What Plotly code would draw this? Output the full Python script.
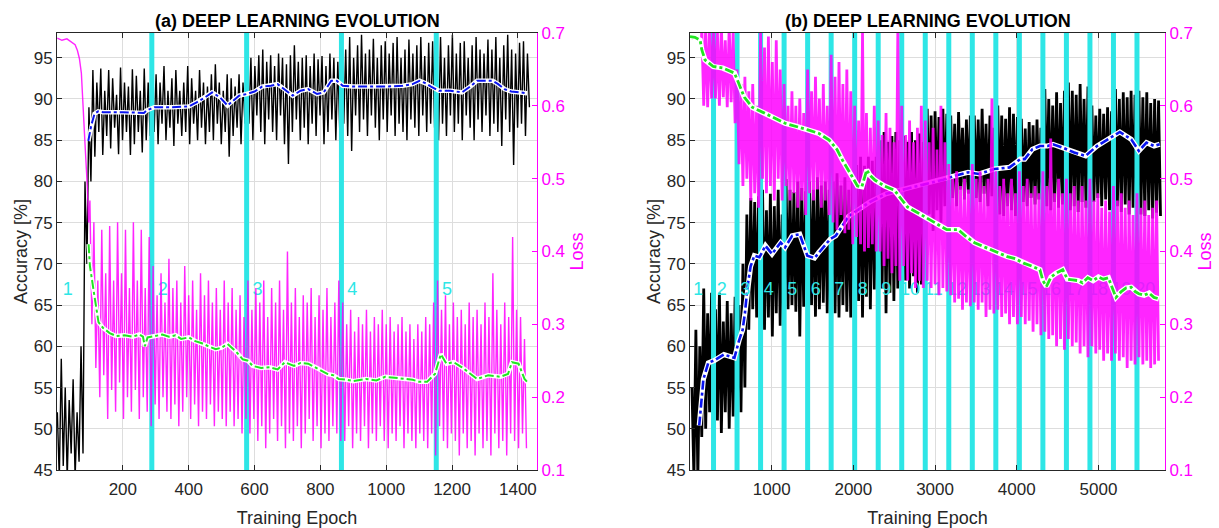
import plotly.graph_objects as go

# ---------------- Panel (a) data ----------------
a_acc_epochs = list(range(1, 1440, 12))          # sample grid for raw accuracy (hi at e, lo at e+6)
a_acc_hi = [52, 58.5, 55, 53.5, 56, 52,
            60, 80, 89, 93.5,
            92, 93.7, 91, 93.5, 92.5, 90.5, 93.8, 92, 91.5, 93.6, 92.8, 91, 93.7, 92,
            91.5, 93, 92, 94, 91, 92.5, 93.5, 91, 92, 94, 92.5, 91, 93.5, 92, 91.5, 93, 94.2, 92, 91, 93, 92.5, 91.5, 93, 92,
            95.5, 95, 94, 95.3, 96, 94.5, 95.3, 94, 95.5, 95, 94.2, 95.3, 96.5, 94.5, 95, 95.3, 94, 95.5, 94.8, 95.2, 94, 95.5, 95, 94.5,
            97, 96, 97.5, 95, 96.5, 97.8, 95.5, 96, 97.3, 95, 96.5, 97, 95.5, 96.8, 97.5, 95, 96, 97.2, 95.5, 96.5, 97.5, 95.2, 96.8, 97,
            96, 97.5, 95, 96.5, 97.8, 95.5, 96.8, 97, 95, 96.5, 97.5, 96, 95.5, 97.2, 96, 97.5, 95, 96.5, 97.8, 96, 95.5, 96.8, 97, 95.5]
a_acc_lo = [44, 45.5, 44, 47, 44, 46,
            47, 70, 80, 83,
            86, 83.2, 85.5, 84, 86.5, 83.3, 85, 86, 83.2, 84.5, 86, 83.5, 85, 85.5,
            86, 84.5, 87, 85, 86.5, 84.3, 87, 85.5, 86, 84.5, 87, 85, 86.5, 84.5, 86, 85, 87, 84.5, 86, 83, 85.5, 86.5, 84.5, 87,
            87, 85, 88, 86, 84.5, 87.5, 86, 85, 88, 84.5, 82.1, 86, 87.5, 85, 86.5, 84.5, 87, 85.5, 88, 84.5, 86, 87.5, 85, 86,
            87, 85.5, 83.7, 88, 86, 87.5, 85.5, 88, 86.5, 85, 87.5, 86, 88, 85.5, 87, 86, 85, 87.5, 86.5, 85.5, 88, 86, 87, 86.5,
            85, 87, 85.5, 88, 86, 87, 85, 88, 86.5, 85, 87.5, 86, 88, 85.5, 87, 86, 84.3, 87.5, 86, 82, 86.5, 87, 85.5, 89]

a_blue_epochs = [95, 104, 114, 125, 140, 200, 264, 272, 284, 296, 350, 401, 424, 450, 471, 495, 518, 540, 553, 576,
                 600, 623, 650, 670, 690, 716, 740, 763, 790, 810, 833, 850, 868, 900, 950, 997, 1050, 1080, 1101, 1120,
                 1136, 1160, 1195, 1230, 1255, 1276, 1300, 1323, 1340, 1359, 1380, 1405, 1428]
a_blue_acc = [84.9, 86.8, 88.2, 88.5, 88.4, 88.4, 88.3, 88.6, 88.8, 89.0, 89.0, 89.1, 89.6, 90.2, 90.8, 90.2, 89.2, 90.0, 90.4, 90.6,
              90.9, 91.5, 91.6, 91.8, 91.2, 90.4, 91.0, 91.2, 90.6, 90.8, 92.2, 92.2, 91.6, 91.5, 91.5, 91.5, 91.6, 91.8, 92.2, 91.9,
              91.5, 91.0, 91.0, 90.8, 91.5, 92.2, 92.2, 92.2, 91.8, 91.2, 90.9, 90.8, 90.7]

a_loss_init_epochs = [1, 15, 30, 45, 55, 62, 68, 74, 80, 86, 92, 96]
a_loss_init = [0.693, 0.69, 0.692, 0.687, 0.684, 0.676, 0.665, 0.645, 0.6, 0.54, 0.49, 0.44]
a_loss_epochs = list(range(100, 1421, 12))        # hi at e, lo at e+6
a_loss_hi = [0.47, 0.44, 0.36, 0.43, 0.37, 0.435, 0.36, 0.44, 0.37, 0.43, 0.35, 0.44, 0.36, 0.43, 0.35, 0.42,
             0.38, 0.34, 0.37, 0.33, 0.39, 0.35, 0.36, 0.33, 0.38, 0.34, 0.36, 0.32, 0.37, 0.34, 0.36, 0.33, 0.35, 0.32, 0.36, 0.33, 0.35, 0.32, 0.34, 0.31,
             0.36, 0.32, 0.35, 0.33, 0.36, 0.31, 0.35, 0.33, 0.36, 0.32, 0.40, 0.33, 0.35, 0.31, 0.34, 0.33, 0.35, 0.31, 0.34, 0.32, 0.35, 0.31, 0.33, 0.36,
             0.33, 0.30, 0.32, 0.29, 0.31, 0.30, 0.32, 0.29, 0.31, 0.30, 0.32, 0.30, 0.31, 0.29, 0.30, 0.31, 0.29, 0.30, 0.28, 0.30, 0.29, 0.31, 0.30, 0.33,
             0.36, 0.32, 0.34, 0.30, 0.33, 0.31, 0.32, 0.30, 0.33, 0.31, 0.32, 0.30, 0.33, 0.31, 0.37, 0.32, 0.30, 0.33, 0.31, 0.42, 0.32, 0.31, 0.28]
a_loss_lo = [0.30, 0.24, 0.20, 0.23, 0.17, 0.21, 0.18, 0.22, 0.17, 0.20, 0.18, 0.21, 0.17, 0.20, 0.18, 0.16,
             0.19, 0.17, 0.20, 0.18, 0.17, 0.19, 0.16, 0.18, 0.20, 0.17, 0.19, 0.16, 0.18, 0.17, 0.19, 0.16, 0.18, 0.17, 0.16, 0.18, 0.16, 0.17, 0.15, 0.17,
             0.15, 0.17, 0.14, 0.16, 0.13, 0.15, 0.17, 0.14, 0.16, 0.13, 0.15, 0.14, 0.16, 0.13, 0.15, 0.17, 0.14, 0.16, 0.13, 0.15, 0.14, 0.16, 0.15, 0.14,
             0.14, 0.16, 0.13, 0.15, 0.14, 0.16, 0.13, 0.15, 0.14, 0.16, 0.14, 0.13, 0.15, 0.14, 0.16, 0.13, 0.15, 0.14, 0.13, 0.15, 0.14, 0.13, 0.15, 0.12,
             0.16, 0.14, 0.13, 0.15, 0.14, 0.12, 0.15, 0.13, 0.14, 0.12, 0.15, 0.13, 0.14, 0.12, 0.15, 0.13, 0.14, 0.12, 0.15, 0.14, 0.13, 0.15, 0.13]

a_green_epochs = [96, 100, 110, 120, 126, 140, 160, 179, 205, 230, 250, 261, 267, 275, 296, 320, 340, 360, 377, 400, 420, 440,
                  459, 482, 500, 518, 545, 564, 580, 594, 620, 646, 670, 692, 720, 740, 763, 790, 821, 840, 856, 880, 900, 938,
                  970, 997, 1030, 1055, 1080, 1101, 1124, 1148, 1166, 1183, 1205, 1230, 1255, 1276, 1310, 1347, 1370, 1382, 1402,
                  1420, 1430]
a_green_loss = [0.41, 0.38, 0.35, 0.32, 0.303, 0.295, 0.288, 0.284, 0.285, 0.283, 0.286, 0.283, 0.27, 0.282, 0.284, 0.286, 0.283,
                0.285, 0.28, 0.282, 0.277, 0.274, 0.27, 0.266, 0.268, 0.273, 0.262, 0.252, 0.25, 0.243, 0.24, 0.241, 0.238, 0.248,
                0.243, 0.247, 0.246, 0.24, 0.232, 0.23, 0.225, 0.224, 0.222, 0.225, 0.223, 0.228, 0.226, 0.225, 0.224, 0.221, 0.221,
                0.232, 0.259, 0.246, 0.248, 0.241, 0.232, 0.225, 0.23, 0.228, 0.232, 0.248, 0.246, 0.225, 0.22]

a_bounds = [288, 576, 864, 1152]
a_labels = ["1", "2", "3", "4", "5"]
a_label_epochs = [33, 321, 609, 897, 1185]

# ---------------- Panel (b) data ----------------
b_acc_epochs = list(range(24, 5760, 48))         # hi at e, lo at e+24
b_acc_hi = [55, 62, 60, 67, 64, 66.5,
            64.5, 66.5, 63, 65.5, 64, 66,
            65, 70, 76, 78, 77.5, 78.2,
            79, 76.5, 78.5, 77, 79, 76,
            80.3, 79, 78.7, 80, 79.2, 78.8,
            80, 79, 80.5, 79.5, 80, 79,
            80, 81, 79.5, 80.5, 79, 80,
            82, 83, 81.9, 83, 82.5, 83,
            85, 86, 84.8, 85.5, 86, 85,
            85.5, 84.8, 86, 85, 85.8, 84.8,
            88.8, 88, 88.5, 87.8, 88.8, 88.2,
            88, 87, 88.4, 86.5, 87.5, 88,
            88, 87.5, 88.8, 87, 88, 86.5,
            89.2, 88, 87.6, 89, 88.2, 87.8,
            87.6, 86.4, 87.2, 86.8, 87.5, 86.5,
            91.2, 90, 89.2, 90.8, 89.5, 91,
            92, 91, 90.5, 91.8, 90, 91.5,
            89.2, 88, 88.8, 88.2, 89, 88.5,
            91.2, 90, 90.8, 90.2, 91, 90.5,
            91, 90.2, 90.8, 89.5, 90, 89.8]
b_acc_lo = [44, 44, 49, 50, 52, 49.5,
            51, 49.5, 52, 50, 51.5, 50,
            52, 55, 62, 64.5, 63.5, 65,
            62, 63.5, 61.2, 64, 62.5, 63,
            64.5, 65, 64.2, 61.2, 64.8, 65,
            65, 63.6, 64.5, 65.3, 64, 64.8,
            64, 63.5, 65, 64.2, 63.5, 65,
            65.5, 63.5, 66, 64.5, 66.9, 65,
            67, 64, 66.5, 65.5, 67, 66,
            68, 67, 68.5, 66.5, 67.5, 68,
            76, 74, 76.5, 75, 77, 76,
            78, 77, 79, 77.8, 78.5, 77.5,
            78, 77.5, 78.5, 77, 78.2, 77.8,
            76, 75.8, 77, 76.5, 75.8, 76.8,
            77.5, 77, 78, 77.2, 77.8, 77,
            77, 76.5, 77.5, 76.8, 77.2, 76.5,
            76.5, 77, 76.3, 77.5, 76.8, 77,
            77.5, 78, 77, 77.8, 76.5, 77.2,
            77, 76.3, 77.2, 76, 76.8, 77.5,
            76, 75.8, 76.5, 75.5, 76.2, 75.8]

b_blue_epochs = [113, 164, 224, 300, 415, 544, 600, 644, 672, 705, 742, 788, 850, 924, 1004, 1110, 1164, 1250, 1343, 1436,
                 1524, 1576, 1624, 1716, 1784, 1864, 1944, 2050, 2200, 2400, 2600, 2800, 3000, 3100, 3244, 3404, 3539, 3726,
                 3912, 4044, 4098, 4191, 4284, 4378, 4444, 4564, 4703, 4843, 4983, 5123, 5262, 5402, 5495, 5588, 5681, 5750]
b_blue_acc = [50.4, 56.0, 58.0, 58.3, 59.0, 58.6, 60.7, 62.0, 64.0, 67.3, 69.7, 71.0, 70.8, 72.2, 71.2, 72.6, 72.0, 73.4, 73.6,
              71.0, 70.7, 71.4, 71.9, 73.0, 73.4, 74.6, 75.8, 76.5, 77.5, 78.5, 79.0, 79.5, 80.0, 80.2, 80.7, 81.1, 80.9, 81.5,
              81.7, 82.7, 82.7, 83.9, 84.3, 84.3, 84.5, 84.1, 83.5, 83.1, 84.3, 85.1, 86.0, 85.1, 83.7, 84.7, 84.3, 84.5]

b_loss_init_epochs = [0, 30, 60, 90, 120, 140]
b_loss_init = [0.695, 0.693, 0.695, 0.692, 0.69, 0.685]
b_loss_epochs = list(range(144, 5760, 48))       # hi at e, lo at e+24
b_loss_hi = [0.71, 0.71, 0.71,
             0.71, 0.70, 0.71, 0.69, 0.71, 0.70,
             0.65, 0.63, 0.64, 0.62, 0.63, 0.60,
             0.70, 0.68, 0.695, 0.66, 0.69, 0.65,
             0.63, 0.60, 0.62, 0.60, 0.61, 0.59,
             0.65, 0.62, 0.64, 0.61, 0.63, 0.60,
             0.67, 0.64, 0.66, 0.63, 0.65, 0.62,
             0.60, 0.58, 0.70, 0.59, 0.57, 0.60,
             0.58, 0.56, 0.59, 0.57, 0.55, 0.70,
             0.60, 0.56, 0.58, 0.55, 0.57, 0.60,
             0.58, 0.55, 0.57, 0.54, 0.60, 0.55,
             0.52, 0.50, 0.51, 0.49, 0.50, 0.485,
             0.52, 0.50, 0.51, 0.49, 0.50, 0.61,
             0.51, 0.49, 0.50, 0.48, 0.50, 0.48,
             0.51, 0.49, 0.50, 0.48, 0.49, 0.48,
             0.51, 0.49, 0.555, 0.48, 0.50, 0.48,
             0.50, 0.48, 0.49, 0.47, 0.49, 0.47,
             0.50, 0.47, 0.48, 0.46, 0.47, 0.455,
             0.49, 0.47, 0.48, 0.46, 0.47, 0.45,
             0.48, 0.46, 0.47, 0.45, 0.46, 0.47]
b_loss_lo = [0.60, 0.598, 0.61,
             0.61, 0.60, 0.612, 0.598, 0.605, 0.576,
             0.52, 0.49, 0.50, 0.47, 0.48, 0.46,
             0.50, 0.48, 0.49, 0.47, 0.50, 0.47,
             0.49, 0.47, 0.48, 0.46, 0.47, 0.45,
             0.48, 0.47, 0.485, 0.46, 0.47, 0.45,
             0.44, 0.43, 0.45, 0.425, 0.43, 0.41,
             0.42, 0.41, 0.40, 0.405, 0.41, 0.40,
             0.40, 0.38, 0.39, 0.37, 0.38, 0.36,
             0.38, 0.36, 0.37, 0.35, 0.36, 0.35,
             0.36, 0.35, 0.355, 0.34, 0.35, 0.345,
             0.34, 0.33, 0.335, 0.32, 0.33, 0.325,
             0.33, 0.32, 0.33, 0.31, 0.32, 0.315,
             0.32, 0.31, 0.315, 0.30, 0.31, 0.30,
             0.31, 0.30, 0.305, 0.29, 0.30, 0.285,
             0.29, 0.28, 0.285, 0.27, 0.28, 0.265,
             0.28, 0.27, 0.275, 0.26, 0.27, 0.255,
             0.27, 0.26, 0.265, 0.25, 0.26, 0.25,
             0.26, 0.25, 0.255, 0.24, 0.25, 0.245,
             0.255, 0.245, 0.25, 0.24, 0.245, 0.25]

b_green_epochs = [0, 60, 124, 144, 184, 284, 400, 544, 600, 664, 764, 880, 1004, 1164, 1300, 1444, 1580, 1704, 1800, 1864,
                  1984, 2050, 2104, 2164, 2200, 2264, 2380, 2504, 2600, 2664, 2760, 2864, 3000, 3144, 3284, 3384, 3484, 3584,
                  3684, 3784, 3884, 3984, 4084, 4184, 4284, 4320, 4364, 4420, 4480, 4564, 4620, 4684, 4750, 4804, 4870, 4934,
                  5000, 5060, 5122, 5170, 5215, 5280, 5340, 5401, 5450, 5494, 5560, 5620, 5680, 5740]
b_green_loss = [0.695, 0.694, 0.69, 0.677, 0.663, 0.654, 0.652, 0.645, 0.63, 0.612, 0.598, 0.592, 0.585, 0.576, 0.572, 0.567,
                0.562, 0.553, 0.54, 0.526, 0.503, 0.49, 0.489, 0.512, 0.505, 0.498, 0.49, 0.484, 0.47, 0.461, 0.455, 0.448,
                0.44, 0.43, 0.43, 0.42, 0.412, 0.407, 0.402, 0.398, 0.393, 0.39, 0.384, 0.38, 0.375, 0.36, 0.352, 0.365, 0.37,
                0.375, 0.362, 0.361, 0.36, 0.357, 0.364, 0.36, 0.365, 0.362, 0.364, 0.35, 0.337, 0.345, 0.35, 0.351, 0.345,
                0.342, 0.34, 0.343, 0.337, 0.335]

b_bounds = list(range(288, 5760, 288))
b_labels = [str(k) for k in range(1, 21)]
b_label_epochs = [100 + 288 * k for k in range(20)]

titles = ["(a) DEEP LEARNING EVOLUTION", "(b) DEEP LEARNING EVOLUTION"]

# ---------------- styling ----------------
FONT = "Liberation Sans, Arial, sans-serif"
TXT = "#262626"
MAG = "#FF00FF"
CYAN = "#2EE6E6"
BLUE = "#0A14F0"
GREEN = "#22E622"
ACC_RANGE = [45, 98]
LOSS_RANGE = [0.1, 0.7]


def zigzag(epochs, hi, lo, half):
    xs, ys = [], []
    for e, h, l in zip(epochs, hi, lo):
        xs += [e, e + half]
        ys += [h, l]
    return xs, ys


def bars(bounds):
    xs, ys = [], []
    for b in bounds:
        xs += [b, b, None]
        ys += [ACC_RANGE[0], ACC_RANGE[1], None]
    return xs, ys


fig = go.Figure()

panels = [
    dict(xa="x", ya="y", ya2="y2", acc=(a_acc_epochs, a_acc_hi, a_acc_lo, 6), blue=(a_blue_epochs, a_blue_acc),
         linit=(a_loss_init_epochs, a_loss_init), loss=(a_loss_epochs, a_loss_hi, a_loss_lo, 6),
         green=(a_green_epochs, a_green_loss), bounds=a_bounds, labels=(a_label_epochs, a_labels),
         lw=1.4, bw=2, gw=2),
    dict(xa="x2", ya="y3", ya2="y4", acc=(b_acc_epochs, b_acc_hi, b_acc_lo, 24), blue=(b_blue_epochs, b_blue_acc),
         linit=(b_loss_init_epochs, b_loss_init), loss=(b_loss_epochs, b_loss_hi, b_loss_lo, 24),
         green=(b_green_epochs, b_green_loss), bounds=b_bounds, labels=(b_label_epochs, b_labels),
         lw=2.8, bw=2.6, gw=2.8),
]

for p in panels:
    ex, ey = zigzag(*p["acc"])
    fig.add_trace(go.Scatter(x=ex, y=ey, mode="lines", line=dict(color="black", width=p["lw"]),
                             xaxis=p["xa"], yaxis=p["ya"], hoverinfo="skip", showlegend=False))
    bx, by = bars(p["bounds"])
    fig.add_trace(go.Scatter(x=bx, y=by, mode="lines", line=dict(color=CYAN, width=5),
                             xaxis=p["xa"], yaxis=p["ya"], hoverinfo="skip", showlegend=False))
    fig.add_trace(go.Scatter(x=p["blue"][0], y=p["blue"][1], mode="lines",
                             line=dict(color="white", width=p["bw"] + 2.5),
                             xaxis=p["xa"], yaxis=p["ya"], hoverinfo="skip", showlegend=False))
    fig.add_trace(go.Scatter(x=p["blue"][0], y=p["blue"][1], mode="lines",
                             line=dict(color=BLUE, width=p["bw"], dash="dashdot"),
                             xaxis=p["xa"], yaxis=p["ya"], hoverinfo="skip", showlegend=False))
    fig.add_trace(go.Scatter(x=p["labels"][0], y=[66.8] * len(p["labels"][1]), mode="text", text=p["labels"][1],
                             textfont=dict(color=CYAN, size=18, family=FONT), textposition="middle center",
                             xaxis=p["xa"], yaxis=p["ya"], hoverinfo="skip", showlegend=False))
    lx, ly = zigzag(*p["loss"])
    fig.add_trace(go.Scatter(x=list(p["linit"][0]) + lx, y=list(p["linit"][1]) + ly, mode="lines",
                             line=dict(color=MAG, width=p["lw"]), opacity=0.85,
                             xaxis=p["xa"], yaxis=p["ya2"], hoverinfo="skip", showlegend=False))
    fig.add_trace(go.Scatter(x=p["green"][0], y=p["green"][1], mode="lines",
                             line=dict(color="white", width=p["gw"] + 2.5),
                             xaxis=p["xa"], yaxis=p["ya2"], hoverinfo="skip", showlegend=False))
    fig.add_trace(go.Scatter(x=p["green"][0], y=p["green"][1], mode="lines",
                             line=dict(color=GREEN, width=p["gw"], dash="dashdot"),
                             xaxis=p["xa"], yaxis=p["ya2"], hoverinfo="skip", showlegend=False))

W, H = 1219, 528
L1, R1, L2, R2 = 57, 537, 690, 1165
TOP, BOT = 33, 470
ydom = [1 - BOT / H, 1 - TOP / H]

xcommon = dict(showline=True, linecolor=TXT, linewidth=1, mirror="ticks", ticks="inside", ticklen=5,
               tickcolor=TXT, showgrid=True, gridcolor="#DDDDDD", gridwidth=1, zeroline=False,
               tickfont=dict(size=17, color=TXT, family=FONT), automargin=False, ticklabelstandoff=4,
               title=dict(text="Training Epoch", font=dict(size=18, color=TXT, family=FONT), standoff=14))
yacc = dict(range=ACC_RANGE, showline=True, linecolor=TXT, linewidth=1, ticks="inside", ticklen=5, tickcolor=TXT,
            showgrid=True, gridcolor="#DDDDDD", zeroline=False, tickvals=list(range(45, 96, 5)),
            tickfont=dict(size=17, color=TXT, family=FONT), automargin=False, domain=ydom,
            title=dict(text="Accuracy [%]", font=dict(size=18, color=TXT, family=FONT), standoff=1))
yloss = dict(range=LOSS_RANGE, showline=True, linecolor=MAG, linewidth=1, ticks="inside", ticklen=5, tickcolor=MAG,
             showgrid=False, zeroline=False, tickvals=[0.1, 0.2, 0.3, 0.4, 0.5, 0.6, 0.7], side="right",
             tickfont=dict(size=17, color=MAG, family=FONT), automargin=False,
             title=dict(text="Loss", font=dict(size=18, color=MAG, family=FONT), standoff=6))

fig.update_layout(
    width=W, height=H, autosize=False, margin=dict(l=0, r=0, t=0, b=0),
    paper_bgcolor="white", plot_bgcolor="white", showlegend=False,
    xaxis=dict(xcommon, domain=[L1 / W, R1 / W], range=[0, 1458], anchor="y", tickvals=list(range(200, 1401, 200))),
    yaxis=dict(yacc, anchor="x"),
    yaxis2=dict(yloss, overlaying="y", anchor="x"),
    xaxis2=dict(xcommon, domain=[L2 / W, R2 / W], range=[0, 5815], anchor="y3",
                tickvals=[1000, 2000, 3000, 4000, 5000]),
    yaxis3=dict(yacc, anchor="x2"),
    yaxis4=dict(yloss, overlaying="y3", anchor="x2"),
    annotations=[
        dict(text="<b>" + titles[0] + "</b>", x=(L1 + R1) / 2 / W, y=1 - 21 / H, xref="paper", yref="paper",
             showarrow=False, font=dict(size=18, color="black", family=FONT), xanchor="center", yanchor="middle"),
        dict(text="<b>" + titles[1] + "</b>", x=(L2 + R2) / 2 / W, y=1 - 21 / H, xref="paper", yref="paper",
             showarrow=False, font=dict(size=18, color="black", family=FONT), xanchor="center", yanchor="middle"),
    ],
)

fig.write_html("out.html")
